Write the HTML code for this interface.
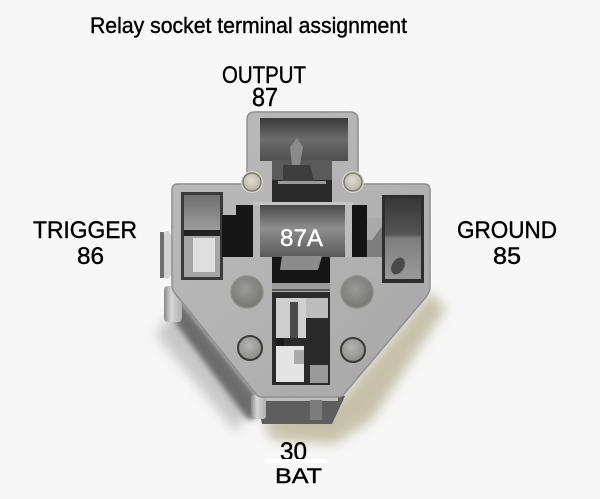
<!DOCTYPE html>
<html><head><meta charset="utf-8"><style>
html,body{margin:0;padding:0;background:#f7f7f7;}
svg{display:block;}
text{font-family:"Liberation Sans",sans-serif;}
</style></head><body>
<svg width="600" height="499" viewBox="0 0 600 499" xmlns="http://www.w3.org/2000/svg">
<defs>
 <filter id="b6" x="-50%" y="-50%" width="200%" height="200%"><feGaussianBlur stdDeviation="6"/></filter>
 <filter id="b3" x="-50%" y="-50%" width="200%" height="200%"><feGaussianBlur stdDeviation="3"/></filter>
 <filter id="noise" x="0" y="0" width="100%" height="100%">
  <feTurbulence type="fractalNoise" baseFrequency="0.9" numOctaves="2" seed="3" result="n"/>
  <feColorMatrix type="matrix" values="0 0 0 0 0.5  0 0 0 0 0.5  0 0 0 0 0.5  0 0 0 1.6 -0.55"/>
 </filter>
 <linearGradient id="metal" x1="0" y1="0" x2="1" y2="1">
  <stop offset="0" stop-color="#bcbcbc"/><stop offset="0.5" stop-color="#b2b2b2"/><stop offset="1" stop-color="#a4a4a4"/>
 </linearGradient>
 <linearGradient id="topcav" x1="0" y1="0" x2="0" y2="1">
  <stop offset="0" stop-color="#3a3a3a"/><stop offset="0.5" stop-color="#6c6c6c"/><stop offset="1" stop-color="#4e4e4e"/>
 </linearGradient>
 <linearGradient id="midcav" x1="0" y1="0" x2="0" y2="1">
  <stop offset="0" stop-color="#4a4a4a"/><stop offset="0.45" stop-color="#8e8e8e"/><stop offset="1" stop-color="#5a5a5a"/>
 </linearGradient>
 <linearGradient id="lcav" x1="0" y1="0" x2="0" y2="1">
  <stop offset="0" stop-color="#707070"/><stop offset="1" stop-color="#9c9c9c"/>
 </linearGradient>
 <linearGradient id="rcav" x1="0" y1="0" x2="0" y2="1">
  <stop offset="0" stop-color="#383838"/><stop offset="0.45" stop-color="#555"/><stop offset="0.5" stop-color="#7e7e7e"/><stop offset="1" stop-color="#999"/>
 </linearGradient>
 <radialGradient id="pinL" cx="0.45" cy="0.4" r="0.6">
  <stop offset="0" stop-color="#9a9a96"/><stop offset="1" stop-color="#767672"/>
 </radialGradient>
 <radialGradient id="pinS" cx="0.45" cy="0.4" r="0.6">
  <stop offset="0" stop-color="#b4b4b0"/><stop offset="1" stop-color="#8c8c88"/>
 </radialGradient>
 <radialGradient id="pinT" cx="0.45" cy="0.4" r="0.6">
  <stop offset="0" stop-color="#dedbd0"/><stop offset="1" stop-color="#b8b4a6"/>
 </radialGradient>
 <linearGradient id="leg" x1="0" y1="0" x2="1" y2="0">
  <stop offset="0" stop-color="#8a8a8a"/><stop offset="0.4" stop-color="#d6d6d6"/><stop offset="1" stop-color="#b0b0b0"/>
 </linearGradient>
 <clipPath id="faceclip">
  <path d="M247,120 Q247,112 255,112 L350,112 Q358,112 358,120 L358,184 L424,184 Q430,184 430,190 L430,287 Q430,292 426,297 L344,394 Q342,397 338,397 L262,397 Q258,397 256,394 L174,292 Q172,289 172,285 L172,190 Q172,184 178,184 L247,184 Z"/>
 </clipPath>
</defs>

<rect width="600" height="499" fill="#f7f7f7"/>

<!-- right warm shadow -->
<polygon points="430,292 446,308 372,420 334,444 272,440 262,420 340,398" fill="#bdb89c" filter="url(#b6)" opacity="0.85"/>
<!-- left soft shadow -->
<polygon points="176,305 252,405 236,432 156,335" fill="#b4b4b4" filter="url(#b6)" opacity="0.7"/>
<!-- left side face / dark band under diagonal -->
<polygon points="174,292 256,394 256,418 248,420 176,324" fill="#5a5a5a" filter="url(#b3)" opacity="0.85"/>

<!-- bottom side face -->
<polygon points="256,396 345,396 332,424 262,424" fill="#5e5e5e"/>
<rect x="258" y="397" width="80" height="4" fill="#bdbdbd"/>
<rect x="251" y="395" width="15" height="24" rx="3" fill="url(#leg)"/>
<rect x="310" y="400" width="12" height="20" fill="#7c7c7c"/>

<!-- left side leg & bump -->
<rect x="164" y="286" width="18" height="36" rx="4" fill="url(#leg)"/>
<ellipse cx="167" cy="255" rx="7" ry="24" fill="#d2d2d2"/>
<rect x="160" y="232" width="4" height="46" fill="#6e6e6e"/>

<!-- metal face -->
<path d="M247,120 Q247,112 255,112 L350,112 Q358,112 358,120 L358,184 L424,184 Q430,184 430,190 L430,287 Q430,292 426,297 L344,394 Q342,397 338,397 L262,397 Q258,397 256,394 L174,292 Q172,289 172,285 L172,190 Q172,184 178,184 L247,184 Z" fill="url(#metal)" stroke="#8c8c8c" stroke-width="1.5"/>
<g clip-path="url(#faceclip)">
 <rect x="160" y="100" width="280" height="300" filter="url(#noise)" opacity="0.45"/>
</g>

<!-- top cavity (87) -->
<rect x="260" y="118" width="88" height="43" fill="url(#topcav)"/>
<rect x="272" y="160" width="60" height="44" fill="#2a2a2a"/>
<rect x="272" y="160" width="60" height="20" fill="#5a5a5a"/>
<rect x="278" y="181" width="48" height="3" fill="#9a9a9a"/>
<polygon points="290,147 297,138 303,147 300,165 292,165" fill="#8a8a8a"/>
<polygon points="283,165 310,165 314,181 283,181" fill="#3e3e3e"/>

<!-- light strip -->
<rect x="253" y="202" width="100" height="4" fill="#c4c4c4"/>

<!-- 87A cavity -->
<rect x="260" y="205" width="86" height="52" fill="url(#midcav)"/>
<rect x="253" y="205" width="7" height="52" fill="#b6b6b6"/>
<rect x="345" y="205" width="7" height="52" fill="#bcbcbc"/>

<!-- slot under 87A -->
<rect x="272" y="257" width="58" height="26" fill="#161616"/>
<polygon points="282,256 322,256 318,270 280,270" fill="#8c8c8c"/>
<rect x="272" y="283" width="58" height="7" fill="#9c9c9c"/>
<rect x="272" y="289" width="58" height="2" fill="#555"/>

<!-- bottom cavity (30) -->
<rect x="272" y="292" width="58" height="93" fill="#2a2a2a"/>
<rect x="276" y="298" width="30" height="40" fill="#cfcfcf"/>
<rect x="290" y="302" width="8" height="36" fill="#4a4a4a"/>
<rect x="276" y="338" width="8" height="8" fill="#1c1c1c"/>
<rect x="276" y="346" width="28" height="36" fill="#e4e4e4"/>
<rect x="294" y="350" width="10" height="14" fill="#aaa"/>
<rect x="310" y="365" width="18" height="18" fill="#9a9a9a"/>
<rect x="306" y="298" width="22" height="20" fill="#bcbcbc"/>

<!-- left cavity (86) -->
<rect x="181" y="192" width="42" height="88" fill="#3a3a3a"/>
<rect x="184" y="195" width="36" height="35" fill="url(#lcav)"/>
<rect x="184" y="230" width="36" height="6" fill="#222"/>
<rect x="184" y="236" width="36" height="41" fill="#a6a6a6"/>
<rect x="193" y="238" width="22" height="34" fill="#e0e0e0"/>
<polygon points="222,215 236,215 236,205 253,205 253,257 222,257" fill="#161616"/>

<!-- right cavity (85) -->
<rect x="382" y="195" width="42" height="88" fill="#2e2e2e"/>
<rect x="385" y="198" width="36" height="81" fill="url(#rcav)"/>
<ellipse cx="398" cy="266" rx="6" ry="9" fill="#4a4a4a" transform="rotate(30 398 266)"/>
<rect x="352" y="205" width="15" height="52" fill="#141414"/>
<rect x="367" y="218" width="15" height="39" fill="#7e7e7e"/>
<polygon points="367,218 382,218 382,226 372,240 367,240" fill="#aaa"/>

<!-- top small pins -->
<circle cx="252" cy="182" r="11" fill="#d8d8d0"/>
<circle cx="252" cy="182" r="9" fill="url(#pinT)" stroke="#7a7870" stroke-width="1.5"/>
<circle cx="353" cy="182" r="11" fill="#d8d8d0"/>
<circle cx="353" cy="182" r="9" fill="url(#pinT)" stroke="#7a7870" stroke-width="1.5"/>

<!-- large pins -->
<circle cx="247" cy="292" r="16" fill="url(#pinL)" stroke="#8e8e8e" stroke-width="1.5"/>
<circle cx="357" cy="292" r="16" fill="url(#pinL)" stroke="#8e8e8e" stroke-width="1.5"/>
<!-- small lower pins -->
<circle cx="250" cy="348" r="12" fill="url(#pinS)" stroke="#3a3a3a" stroke-width="2"/>
<circle cx="353" cy="350" r="12" fill="url(#pinS)" stroke="#3a3a3a" stroke-width="2"/>

<!-- labels -->
<g stroke="#000" stroke-width="0.4">
<text x="90" y="33" font-size="22" textLength="317" lengthAdjust="spacingAndGlyphs" fill="#000">Relay socket terminal assignment</text>
<text x="222" y="83" font-size="24" textLength="84" lengthAdjust="spacingAndGlyphs" fill="#000">OUTPUT</text>
<text x="252" y="106" font-size="26" textLength="26" lengthAdjust="spacingAndGlyphs" fill="#000">87</text>
<text x="33" y="238" font-size="24" textLength="104" lengthAdjust="spacingAndGlyphs" fill="#000">TRIGGER</text>
<text x="77" y="264" font-size="24" textLength="27" lengthAdjust="spacingAndGlyphs" fill="#000">86</text>
<text x="457" y="238" font-size="24" textLength="100" lengthAdjust="spacingAndGlyphs" fill="#000">GROUND</text>
<text x="493" y="264" font-size="24" textLength="28" lengthAdjust="spacingAndGlyphs" fill="#000">85</text>
<text x="280" y="460" font-size="25" textLength="27" lengthAdjust="spacingAndGlyphs" fill="#000">30</text>
</g>
<text x="280" y="246" font-size="24" textLength="43" lengthAdjust="spacingAndGlyphs" fill="#fff" stroke="#fff" stroke-width="0.4">87A</text>
<rect x="267" y="459" width="60" height="4" fill="#ffffff"/>
<text x="275" y="483" font-size="21" textLength="47" lengthAdjust="spacingAndGlyphs" fill="#000" stroke="#000" stroke-width="0.4">BAT</text>
</svg>
</body></html>
